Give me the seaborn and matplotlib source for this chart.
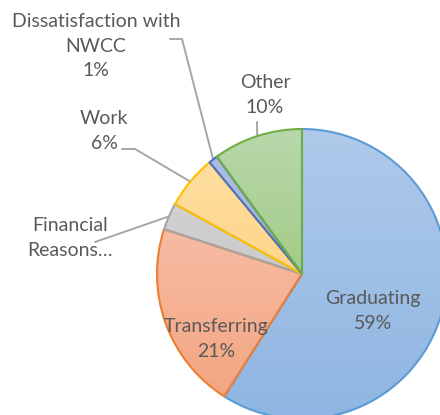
import matplotlib
matplotlib.use("Agg")
import matplotlib.pyplot as plt
import matplotlib.colors as mcolors
import seaborn as sns
import numpy as np

# ======================
# datos
# ======================
categorias = ["Graduating", "Transferring", "Financial Reasons", "Work",
              "Dissatisfaction with NWCC", "Other"]
etiquetas = ["Graduating\n59%", "Transferring\n21%", "Financial\nReasons…",
             "Work\n6%", "Dissatisfaction with\nNWCC\n1%", "Other\n10%"]
porcentajes = [59, 21, 3, 6, 1, 10]

# colores (degradado vertical: arriba -> abajo) y borde
color_arriba = ["#afcaea", "#f7c8b6", "#d9d9d9", "#ffe0a6", "#b0bfe8", "#b8d8aa"]
color_abajo = ["#8fb5e2", "#f4a37e", "#bcbcbc", "#fecb6c", "#8fa2da", "#8ec066"]
borde = ["#5b9bd5", "#ed7d31", "#a5a5a5", "#ffc000", "#4472c4", "#70ad47"]

sns.set_style("white")
plt.rcParams['font.family'] = ['Lato', 'DejaVu Sans']

fig = plt.figure(figsize=(4.4, 4.15), dpi=100)
# centro del pie ~ (302, 274) px, radio ~145 px
W, H = 440, 415
cx, cy, r = 302, 274, 145
ax = fig.add_axes([(cx - r) / W, (H - cy - r) / H, 2 * r / W, 2 * r / H])

wedges, _ = ax.pie(porcentajes, startangle=90, counterclock=False,
                   colors=color_abajo, radius=1,
                   wedgeprops=dict(linewidth=1.5, joinstyle="round"))

t = np.linspace(0, 1, 256)[:, None, None]
for w, c1, c2, cb in zip(wedges, color_arriba, color_abajo, borde):
    a = np.array(mcolors.to_rgb(c1))[None, None, :]
    b = np.array(mcolors.to_rgb(c2))[None, None, :]
    img = np.repeat(a + (b - a) * t, 2, axis=1)
    im = ax.imshow(img, extent=[-1, 1, -1, 1], origin="upper",
                   interpolation="bilinear", zorder=1, aspect="auto")
    im.set_clip_path(w)
    w.set_facecolor("none")
    w.set_edgecolor(cb)
    w.set_zorder(2)
    w.set_clip_on(False)

ax.set_xlim(-1, 1)
ax.set_ylim(-1, 1)
ax.set_aspect("equal")
ax.axis("off")

gris = "#595959"
linea = "#a6a6a6"
fs = 14


def px(x, y):
    return (x - cx) / r, (cy - y) / r


def medio(w):
    a = np.deg2rad((w.theta1 + w.theta2) / 2)
    return np.cos(a), np.sin(a)


# etiquetas dentro
for i, (x, y) in [(0, (373, 311)), (1, (216, 339))]:
    ax.text(*px(x, y), etiquetas[i], ha="center", va="center", color=gris,
            fontsize=fs, linespacing=1.55, zorder=3)

# etiquetas fuera con lineas guia
fuera = {
    2: ((70, 238), [(95, 242)]),
    3: ((104, 131), [(122, 149), (135, 149)]),
    4: ((96, 46), [(170, 39), (182, 39)]),
    5: ((265, 95), [(257, 122)]),
}
for i, ((x, y), puntos) in fuera.items():
    ax.text(*px(x, y), etiquetas[i], ha="center", va="center", color=gris,
            fontsize=fs, linespacing=1.55, zorder=3)
    pts = [px(*p) for p in puntos] + [medio(wedges[i])]
    xs, ys = zip(*pts)
    ax.plot(xs, ys, color=linea, lw=1.4, clip_on=False, zorder=0.5)

fig.savefig("out.png", dpi=100)
